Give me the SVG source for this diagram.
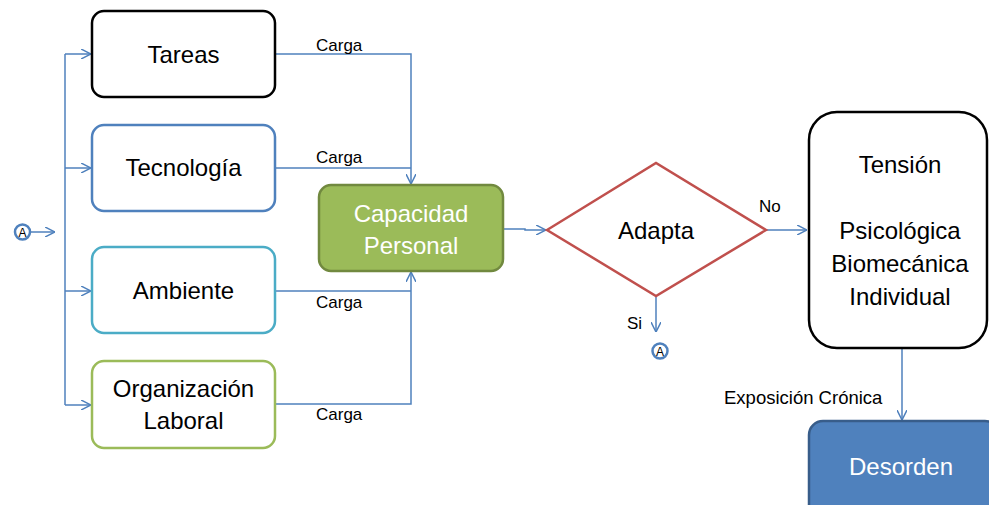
<svg xmlns="http://www.w3.org/2000/svg" width="989" height="505" viewBox="0 0 989 505">
  <style>
    .lbl { font-family: "Liberation Sans", Arial, sans-serif; font-size: 24px; fill: #000; text-anchor: middle; }
    .lbl-w { fill: #fff; }
    .small { font-family: "Liberation Sans", Arial, sans-serif; font-size: 17px; fill: #000; }
    .conn { fill: none; stroke: #4f81bd; stroke-width: 1.5; }
    .box { fill: #fff; stroke-width: 2.5; }
    .ref { fill: #fff; stroke: #4f81bd; stroke-width: 2.5; }
    .ref-t { font-family: "Liberation Sans", Arial, sans-serif; font-size: 12px; text-anchor: middle; fill: #000; }
  </style>
  <defs>
    <marker id="arrow" viewBox="0 0 10 10" refX="10" refY="5" markerWidth="10" markerHeight="10" markerUnits="userSpaceOnUse" orient="auto">
      <path d="M0,0 L10,5 L0,10" fill="none" stroke="#4f81bd" stroke-width="1.5"/>
    </marker>
  </defs>

  <rect width="989" height="505" fill="#fff"/>

  <!-- connectors -->
  <g id="connectors">
    <path class="conn" d="M31,232 H55" marker-end="url(#arrow)"/>
    <path class="conn" d="M65,54 V405"/>
    <path class="conn" d="M65,54 H91" marker-end="url(#arrow)"/>
    <path class="conn" d="M65,168 H91" marker-end="url(#arrow)"/>
    <path class="conn" d="M65,291 H91" marker-end="url(#arrow)"/>
    <path class="conn" d="M65,405 H91" marker-end="url(#arrow)"/>

    <path class="conn" d="M276,54 H411 V184" marker-end="url(#arrow)"/>
    <path class="conn" d="M276,168 H411"/>
    <path class="conn" d="M276,291 H411"/>
    <path class="conn" d="M276,404 H411 V272" marker-end="url(#arrow)"/>

    <path class="conn" d="M504,229 H525 V230 H546" marker-end="url(#arrow)"/>
    <path class="conn" d="M767,230 H807" marker-end="url(#arrow)"/>
    <path class="conn" d="M656,297 V332" marker-end="url(#arrow)"/>
    <path class="conn" d="M902,349 V420" marker-end="url(#arrow)"/>

    <text class="small" x="316" y="51">Carga</text>
    <text class="small" x="316" y="163">Carga</text>
    <text class="small" x="316" y="308">Carga</text>
    <text class="small" x="316" y="420">Carga</text>
    <text class="small" x="759" y="212">No</text>
    <text class="small" x="627" y="329">Si</text>
    <text class="small" x="724" y="404" style="font-size:18.5px">Exposición Crónica</text>
  </g>

  <!-- off-page references -->
  <g id="ref-a-left">
    <circle class="ref" cx="22.5" cy="232" r="7.5"/>
    <text class="ref-t" x="22.5" y="236.5">A</text>
  </g>
  <g id="ref-a-bottom">
    <circle class="ref" cx="660" cy="351" r="7.5"/>
    <text class="ref-t" x="660" y="355.5">A</text>
  </g>

  <g id="tareas">
    <rect class="box" x="92" y="11" width="183" height="86" rx="12" stroke="#000" stroke-width="3"/>
    <text class="lbl" x="183.5" y="63">Tareas</text>
  </g>
  <g id="tecnologia">
    <rect class="box" x="92" y="125" width="183" height="86" rx="12" stroke="#4f81bd"/>
    <text class="lbl" x="183.5" y="176">Tecnología</text>
  </g>
  <g id="ambiente">
    <rect class="box" x="92" y="247" width="183" height="86" rx="12" stroke="#4bacc6"/>
    <text class="lbl" x="183.5" y="299">Ambiente</text>
  </g>
  <g id="organizacion">
    <rect class="box" x="92" y="361" width="183" height="87" rx="12" stroke="#9bbb59"/>
    <text class="lbl" x="183.5" y="397">Organización</text>
    <text class="lbl" x="183.5" y="429">Laboral</text>
  </g>

  <g id="capacidad">
    <rect x="319" y="185" width="184" height="86" rx="12" fill="#9bbb59" stroke="#71893f" stroke-width="2.5"/>
    <text class="lbl lbl-w" x="411" y="222">Capacidad</text>
    <text class="lbl lbl-w" x="411" y="254">Personal</text>
  </g>

  <g id="adapta">
    <polygon points="547,230 656,163 766,230 656,296" fill="#fff" stroke="#c0504d" stroke-width="2.5"/>
    <text class="lbl" x="656" y="239">Adapta</text>
  </g>

  <g id="tension">
    <rect class="box" x="809" y="112" width="178" height="236" rx="28" stroke="#000" stroke-width="3"/>
    <text class="lbl" x="900" y="173">Tensión</text>
    <text class="lbl" x="900" y="239">Psicológica</text>
    <text class="lbl" x="900" y="272">Biomecánica</text>
    <text class="lbl" x="900" y="305">Individual</text>
  </g>

  <g id="desorden">
    <rect x="809" y="421" width="190" height="100" rx="14" fill="#4f81bd" stroke="#385d8a" stroke-width="2.5"/>
    <text class="lbl lbl-w" x="901" y="475">Desorden</text>
  </g>
</svg>
